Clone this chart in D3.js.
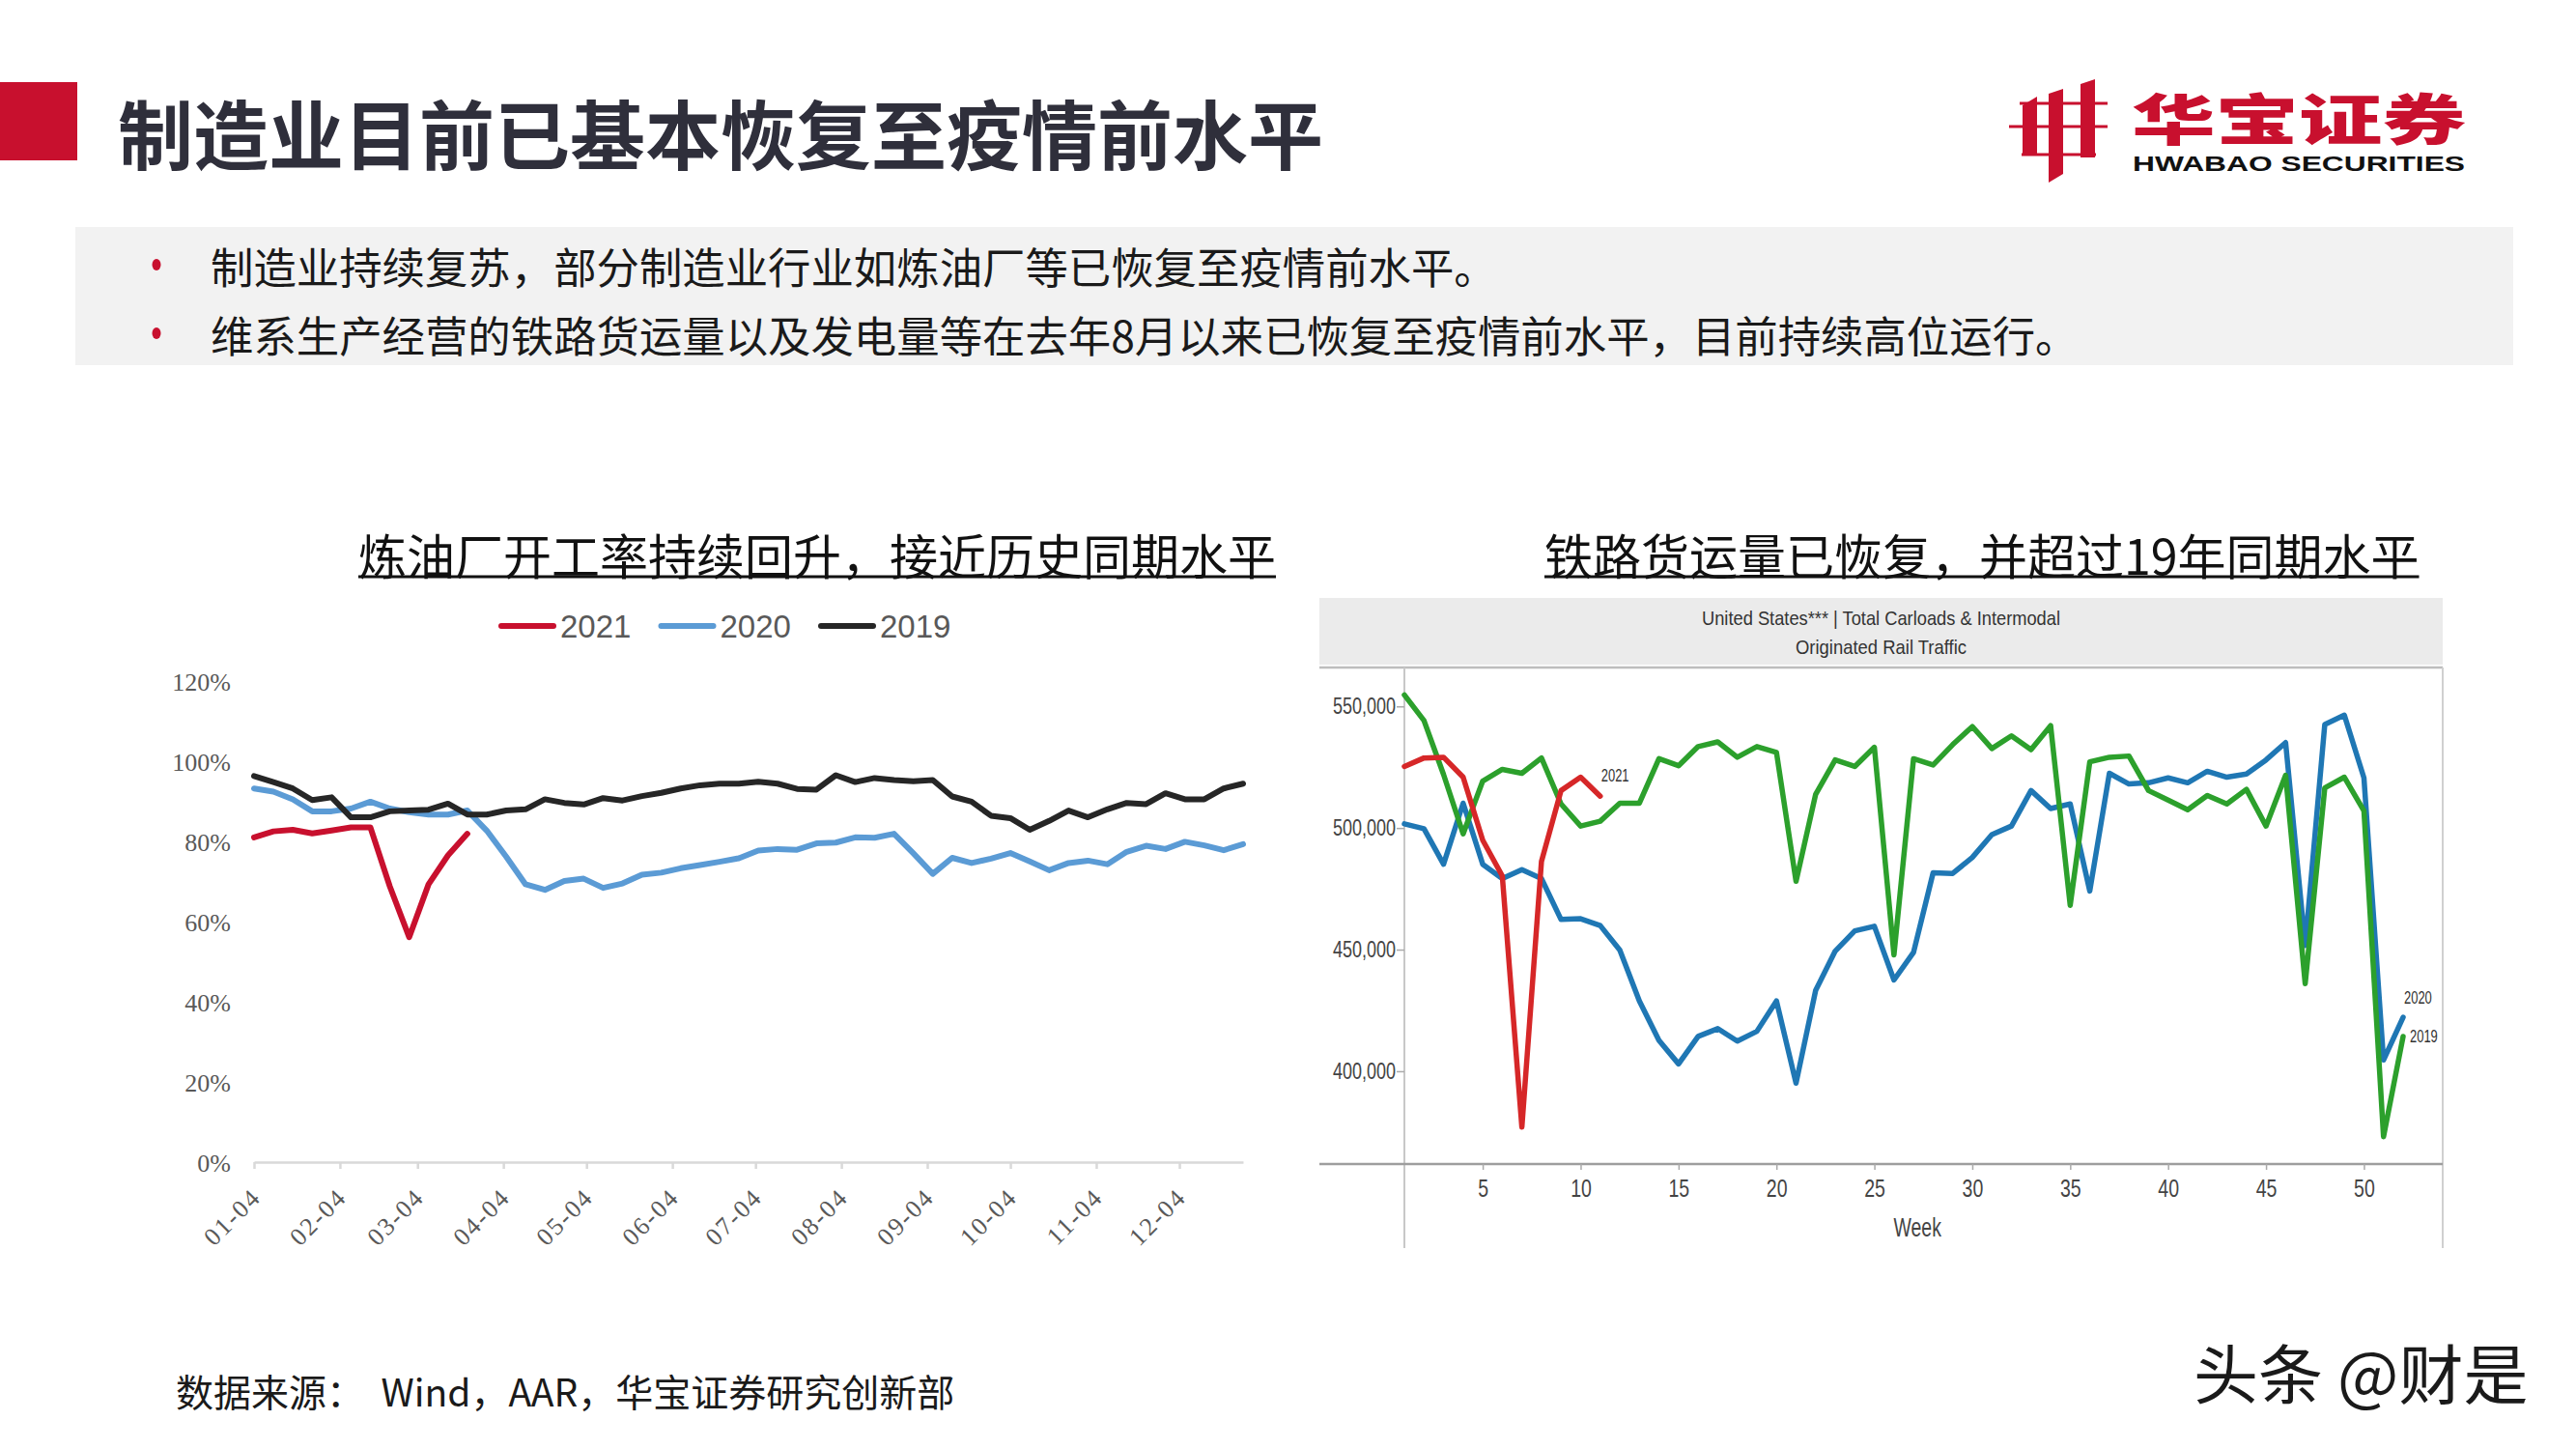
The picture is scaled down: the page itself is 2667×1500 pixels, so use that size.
<!DOCTYPE html>
<html><head><meta charset="utf-8">
<script src="https://cdn.jsdelivr.net/npm/d3@7/dist/d3.min.js"></script>
<style>
html,body{margin:0;padding:0;background:#fff;}
svg{display:block;}
</style></head>
<body>
<svg id="c" width="2667" height="1500"></svg>
<script>
// ---------------- text content ----------------
const pageTitle = "制造业目前已基本恢复至疫情前水平";
const bullets = [
  "制造业持续复苏，部分制造业行业如炼油厂等已恢复至疫情前水平。",
  "维系生产经营的铁路货运量以及发电量等在去年8月以来已恢复至疫情前水平，目前持续高位运行。"
];
const leftTitle = "炼油厂开工率持续回升，接近历史同期水平";
const rightTitle = "铁路货运量已恢复，并超过19年同期水平";
const sourceText = "数据来源：  Wind，AAR，华宝证券研究创新部";
const watermarkText = "头条 @财是";
const logoCN = "华宝证券";
const logoEN = "HWABAO SECURITIES";

// ---------------- left chart data (refinery utilisation, %) ----------------
const refineryDates = [
  "2019-01-04","2019-01-11","2019-01-18","2019-01-25","2019-02-01","2019-02-08","2019-02-15","2019-02-22",
  "2019-03-01","2019-03-08","2019-03-15","2019-03-22","2019-03-29","2019-04-05","2019-04-12","2019-04-19",
  "2019-04-26","2019-05-03","2019-05-10","2019-05-17","2019-05-24","2019-05-31","2019-06-07","2019-06-14",
  "2019-06-21","2019-06-28","2019-07-05","2019-07-12","2019-07-19","2019-07-26","2019-08-02","2019-08-09",
  "2019-08-16","2019-08-23","2019-08-30","2019-09-06","2019-09-13","2019-09-20","2019-09-27","2019-10-04",
  "2019-10-11","2019-10-18","2019-10-25","2019-11-01","2019-11-08","2019-11-15","2019-11-22","2019-11-29",
  "2019-12-06","2019-12-13","2019-12-20","2019-12-27"
];
const refineryTickDates = ["2019-01-04","2019-02-04","2019-03-04","2019-04-04","2019-05-04","2019-06-04",
  "2019-07-04","2019-08-04","2019-09-04","2019-10-04","2019-11-04","2019-12-04"];
const refineryTickLabels = ["01-04","02-04","03-04","04-04","05-04","06-04","07-04","08-04","09-04","10-04","11-04","12-04"];
const refineryYTicks = [0, 0.2, 0.4, 0.6, 0.8, 1.0, 1.2];
const refinery2021 = [81.0, 82.5, 82.9, 82.0, 82.7, 83.5, 83.5, 68.8, 56.1, 69.3, 76.5, 81.9];
const refinery2020 = [93.2, 92.4, 90.5, 87.5, 87.5, 88.2, 89.9, 88.2, 87.3, 86.7, 86.7, 87.7, 82.7, 76.2,
  69.3, 67.9, 70.1, 70.7, 68.4, 69.5, 71.7, 72.2, 73.3, 74.1, 74.9, 75.8, 77.7, 78.1, 77.9, 79.5, 79.7,
  81.0, 80.9, 81.9, 77.0, 71.9, 75.9, 74.6, 75.7, 77.1, 75.0, 72.8, 74.6, 75.2, 74.3, 77.4, 78.9, 78.1,
  79.9, 79.0, 77.8, 79.3];
const refinery2019 = [96.3, 94.8, 93.2, 90.3, 91.0, 86.0, 86.0, 87.5, 87.7, 87.9, 89.4, 86.7, 86.7, 87.7,
  88.0, 90.5, 89.6, 89.2, 90.8, 90.2, 91.3, 92.1, 93.2, 94.0, 94.4, 94.4, 94.9, 94.4, 93.1, 92.9, 96.5,
  94.8, 95.8, 95.3, 95.0, 95.3, 91.2, 89.9, 86.4, 85.8, 82.9, 85.1, 87.7, 86.0, 88.0, 89.6, 89.3, 92.0,
  90.5, 90.5, 93.2, 94.4];
const refinerySeriesNames = ["2021", "2020", "2019"];

// ---------------- right chart data (US rail traffic, thousand carloads) ----------------
const railHeader = ["United States*** | Total Carloads & Intermodal", "Originated Rail Traffic"];
const railXTicks = [5, 10, 15, 20, 25, 30, 35, 40, 45, 50];
const railYTicks = [400, 450, 500, 550];
const railXLabel = "Week";
const rail2021 = [525.3, 528.8, 529.1, 520.9, 495.0, 480.3, 377.0, 486.3, 515.4, 520.9, 513.1];
const rail2020 = [501.7, 499.7, 485.1, 510.2, 485.1, 479.2, 482.9, 479.2, 462.4, 462.7, 459.9, 449.8,
  428.9, 412.7, 403.0, 414.3, 417.5, 412.4, 416.4, 428.9, 395.1, 433.2, 449.4, 457.7, 459.6, 437.5,
  448.9, 481.6, 481.3, 487.9, 497.3, 500.8, 515.4, 508.0, 509.9, 474.1, 522.5, 518.1, 518.6, 520.6,
  518.6, 523.3, 520.9, 522.2, 528.0, 535.1, 451.7, 542.6, 546.4, 520.6, 404.6, 422.2];
const rail2019 = [554.7, 544.2, 522.0, 497.6, 519.3, 524.1, 522.5, 528.8, 509.9, 500.8, 502.8, 510.2,
  510.2, 528.5, 525.6, 533.5, 535.4, 529.1, 533.5, 531.1, 478.1, 513.8, 528.0, 525.3, 533.2, 447.8,
  528.5, 525.9, 534.3, 541.7, 532.7, 537.9, 532.2, 542.1, 468.2, 527.2, 529.1, 529.6, 515.4, 511.5,
  507.5, 513.4, 509.9, 515.9, 500.8, 521.7, 436.0, 516.5, 520.9, 507.1, 373.1, 414.3];

// ---------------- drawing ----------------
const svg = d3.select("#c");
const CJK = "'Noto Sans CJK SC','Noto Sans',sans-serif";
const SERIF = "'Liberation Serif','DejaVu Serif',serif";
const SANS = "'Liberation Sans',Arial,sans-serif";
const RED = "#C8102E";

// header block + title
svg.append("rect").attr("x", 0).attr("y", 85).attr("width", 80).attr("height", 81).attr("fill", RED);
svg.append("text").attr("x", 122).attr("y", 136).attr("dominant-baseline", "central")
  .attr("font-family", CJK).attr("font-weight", 700).attr("font-size", 78)
  .attr("fill", "#2f2f3b").text(pageTitle);

// logo
const logo = svg.append("g").attr("fill", RED);
[[[2094,109],[2109,100],[2109,160],[2094,160]],
 [[2121,97],[2136,92],[2136,180],[2121,189]],
 [[2154,87],[2169,82],[2169,163],[2154,163]]].forEach(p =>
  logo.append("polygon").attr("points", p.map(q => q.join(",")).join(" ")));
[[2091,105.5,91],[2080,129.5,102],[2093,158.5,77]].forEach(r =>
  logo.append("rect").attr("x", r[0]).attr("y", r[1]).attr("width", r[2]).attr("height", 3));
svg.append("text").attr("x", 2207).attr("y", 120).attr("dominant-baseline", "central")
  .attr("font-family", CJK).attr("font-weight", 900).attr("font-size", 54).attr("fill", RED)
  .attr("textLength", 346).attr("lengthAdjust", "spacingAndGlyphs")
  .attr("transform", "translate(0,120) scale(1,1.06) translate(0,-120)").text(logoCN);
svg.append("text").attr("x", 2208).attr("y", 169).attr("dominant-baseline", "central")
  .attr("font-family", SANS).attr("font-weight", 700).attr("font-size", 22).attr("fill", "#111")
  .attr("textLength", 344).attr("lengthAdjust", "spacingAndGlyphs").text(logoEN);

// bullet box
svg.append("rect").attr("x", 78).attr("y", 235).attr("width", 2524).attr("height", 143).attr("fill", "#f2f2f2");
bullets.forEach((b, i) => {
  const cy = 274 + i * 71;
  svg.append("ellipse").attr("cx", 162).attr("cy", cy).attr("rx", 4.5).attr("ry", 6).attr("fill", RED);
  svg.append("text").attr("x", 218).attr("y", cy).attr("dominant-baseline", "central")
    .attr("font-family", CJK).attr("font-size", 44.4).attr("fill", "#1a1a1a").text(b);
});

// chart titles (underlined)
function titleU(txt, x) {
  const t = svg.append("text").attr("x", x).attr("y", 573).attr("dominant-baseline", "central")
    .attr("font-family", CJK).attr("font-size", 50).attr("fill", "#111").text(txt);
  const w = t.node().getComputedTextLength();
  svg.append("line").attr("x1", x).attr("x2", x + w).attr("y1", 597).attr("y2", 597)
    .attr("stroke", "#111").attr("stroke-width", 3);
}
titleU(leftTitle, 371);
titleU(rightTitle, 1599);

// ---------- left chart ----------
const parse = d3.timeParse("%Y-%m-%d");
const lDates = refineryDates.map(parse);
const xL = d3.scaleTime().domain([lDates[0], lDates[lDates.length - 1]]).range([263, 1287]);
const yL = d3.scaleLinear().domain([0, 1.2]).range([1203, 705]);
const leftColors = {"2021": RED, "2020": "#5B9BD5", "2019": "#262626"};

// legend
refinerySeriesNames.forEach((n, i) => {
  const lx = 519 + i * 165.5;
  svg.append("line").attr("x1", lx).attr("x2", lx + 54).attr("y1", 648).attr("y2", 648)
    .attr("stroke", leftColors[n]).attr("stroke-width", 6).attr("stroke-linecap", "round");
  svg.append("text").attr("x", lx + 61).attr("y", 648).attr("dominant-baseline", "central")
    .attr("font-family", SANS).attr("font-size", 33).attr("fill", "#595959").text(n);
});

const gyL = svg.append("g").attr("transform", "translate(239,0)")
  .call(d3.axisLeft(yL).tickValues(refineryYTicks).tickSize(0).tickPadding(0).tickFormat(d3.format(".0%")));
gyL.select(".domain").remove();
gyL.selectAll("text").attr("font-family", SERIF).attr("font-size", 26).attr("fill", "#595959").attr("dy", "0.38em");

const gxL = svg.append("g").attr("transform", "translate(0,1203)")
  .call(d3.axisBottom(xL).tickValues(refineryTickDates.map(parse)).tickSize(7).tickSizeOuter(0)
    .tickFormat((d, i) => refineryTickLabels[i]));
gxL.select(".domain").attr("stroke", "#d9d9d9").attr("stroke-width", 2.5);
gxL.selectAll(".tick line").attr("stroke", "#d9d9d9").attr("stroke-width", 2.5);
gxL.selectAll("text").attr("y", null).attr("dy", null).attr("x", null)
  .attr("transform", "translate(8,38) rotate(-45)").attr("text-anchor", "end")
  .attr("font-family", SERIF).attr("font-size", 26).attr("letter-spacing", 2).attr("fill", "#595959");

const lineL = d3.line().x((d, i) => xL(lDates[i])).y(d => yL(d / 100));
[["2021", refinery2021], ["2020", refinery2020], ["2019", refinery2019]].forEach(([n, arr]) => {
  svg.append("path").datum(arr).attr("d", lineL).attr("fill", "none")
    .attr("stroke", leftColors[n]).attr("stroke-width", 6).attr("stroke-linejoin", "round").attr("stroke-linecap", "round");
});

// ---------- right chart ----------
const xR = d3.scaleLinear().domain([1, 52]).range([1454, 2488]);
const yR = d3.scaleLinear().domain([362, 565]).range([1204.6, 693.5]);
const frameL = 1366, frameR = 2529, frameT = 691, frameB = 1292, axisY = 1205;

svg.append("rect").attr("x", frameL).attr("y", 619).attr("width", frameR - frameL).attr("height", 69).attr("fill", "#ebebeb");
railHeader.forEach((t, i) => {
  svg.append("text").attr("x", (frameL + frameR) / 2).attr("y", 639 + i * 30).attr("dominant-baseline", "central")
    .attr("text-anchor", "middle").attr("font-family", SANS).attr("font-size", 21).attr("fill", "#333")
    .attr("textLength", i === 0 ? 371 : 177).attr("lengthAdjust", "spacingAndGlyphs").text(t);
});
svg.append("line").attr("x1", frameL).attr("x2", frameR).attr("y1", frameT).attr("y2", frameT).attr("stroke", "#bdbdbd").attr("stroke-width", 2.5);
svg.append("line").attr("x1", frameR).attr("x2", frameR).attr("y1", frameT).attr("y2", frameB).attr("stroke", "#d0d0d0").attr("stroke-width", 2);
svg.append("line").attr("x1", xR(1)).attr("x2", xR(1)).attr("y1", frameT).attr("y2", frameB).attr("stroke", "#c8c8c8").attr("stroke-width", 2);
svg.append("line").attr("x1", frameL).attr("x2", frameR).attr("y1", axisY).attr("y2", axisY).attr("stroke", "#9e9e9e").attr("stroke-width", 2.5);

const sx = 0.75;
const gyR = svg.append("g").attr("transform", `translate(${xR(1)},0)`)
  .call(d3.axisLeft(yR).tickValues(railYTicks).tickSize(8).tickPadding(1).tickFormat(d => d3.format(",")(d * 1000)));
gyR.select(".domain").remove();
gyR.selectAll(".tick line").attr("stroke", "#aaa").attr("stroke-width", 1.5);
gyR.selectAll("text").attr("x", -9 / sx).attr("transform", `scale(${sx},1)`)
  .attr("font-family", SANS).attr("font-size", 24).attr("fill", "#444");

const gxR = svg.append("g").attr("transform", `translate(0,${axisY})`)
  .call(d3.axisBottom(xR).tickValues(railXTicks).tickSize(6));
gxR.select(".domain").remove();
gxR.selectAll(".tick line").attr("stroke", "#aaa").attr("stroke-width", 1.5);
gxR.selectAll("text").attr("y", 25).attr("dy", "0.36em").attr("transform", `scale(${sx},1)`)
  .attr("font-family", SANS).attr("font-size", 26).attr("fill", "#444");

svg.append("text").attr("transform", `translate(${xR(27.2)},1271) scale(0.72,1)`).attr("text-anchor", "middle")
  .attr("dominant-baseline", "central").attr("font-family", SANS).attr("font-size", 27).attr("fill", "#444").text(railXLabel);

const lineR = d3.line().x((d, i) => xR(i + 1)).y(d => yR(d));
const railSeries = [["2020", rail2020, "#1F77B4"], ["2019", rail2019, "#2CA02C"], ["2021", rail2021, "#D62728"]];
railSeries.forEach(([n, arr, c]) => {
  svg.append("path").datum(arr).attr("d", lineR).attr("fill", "none")
    .attr("stroke", c).attr("stroke-width", 5.5).attr("stroke-linejoin", "round").attr("stroke-linecap", "round");
});
// end labels
const endLab = (n, arr, dx, dy) => {
  const i = arr.length - 1;
  svg.append("text").attr("transform", `translate(${xR(i + 1) + dx},${yR(arr[i]) + dy}) scale(0.72,1)`)
    .attr("dominant-baseline", "central").attr("font-family", SANS).attr("font-size", 18).attr("fill", "#333").text(n);
};
endLab("2021", rail2021, 1, -21);
endLab("2020", rail2020, 1, -20);
endLab("2019", rail2019, 7, 0);

// footer + watermark
svg.append("text").attr("x", 182).attr("y", 1439).attr("dominant-baseline", "central")
  .attr("font-family", CJK).attr("font-size", 39).attr("fill", "#1a1a1a")
  .style("white-space", "pre").text(sourceText);
svg.append("text").attr("x", 2271).attr("y", 1418).attr("dominant-baseline", "central")
  .attr("font-family", CJK).attr("font-size", 67).attr("fill", "#1a1a1a")
  .attr("stroke", "#ffffff").attr("stroke-width", 2).attr("paint-order", "stroke").text(watermarkText);
</script>
</body></html>
